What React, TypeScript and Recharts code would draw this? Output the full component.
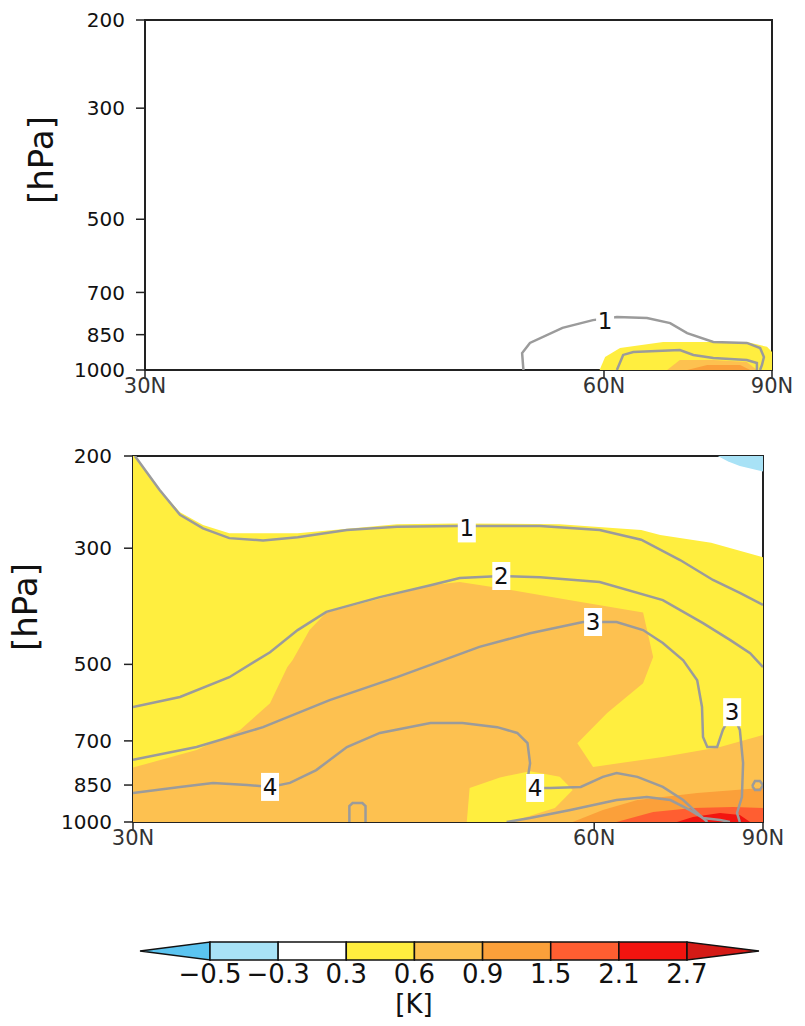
import React from 'react';
import { ScatterChart, Scatter, XAxis, YAxis, ReferenceArea } from 'recharts';

// points are [latitude (deg N), pressure (hPa)]
type Pt = [number, number];

const P_TICKS = [200, 300, 500, 700, 850, 1000];
const LAT_TICKS = [30, 60, 90];

const LEVELS = ['\u22120.5', '\u22120.3', '0.3', '0.6', '0.9', '1.5', '2.1', '2.7'];
// below -0.5, -0.5..-0.3, -0.3..0.3, 0.3..0.6, 0.6..0.9, 0.9..1.5, 1.5..2.1, 2.1..2.7, above 2.7
const LEVEL_COLORS = ['#5BC4F0', '#A8E2F6', '#FFFFFF', '#FFEE3F', '#FDC150', '#FBA03A', '#FF5E31', '#F3140F', '#D41A16'];

// ---- upper panel ----
const T_YELLOW: Pt[] = [[59.6, 1000], [60.1, 942], [61.5, 904], [65.95, 879], [72.4, 879], [78.5, 879], [84.9, 899], [90, 921], [90, 1000]];
const T_ORANGE_LIGHT: Pt[] = [[66.4, 1000], [67.9, 955], [72.4, 955], [78.5, 964], [81.1, 1000]];
const T_ORANGE: Pt[] = [[68.8, 1000], [71.5, 977], [77.05, 977], [79.3, 1000]];
const T_LINE1: Pt[] = [[53.3, 1000], [53.2, 925], [53.8, 883], [56.4, 824], [59.0, 795], [61.2, 784], [64.2, 787], [66.75, 806], [68.8, 844], [72.4, 879], [78.5, 883], [82.1, 904], [83.5, 942], [82.75, 977], [82.1, 1000]];
const T_LINE2: Pt[] = [[61.2, 1000], [61.8, 933], [62.8, 921], [67.9, 912], [69.6, 933], [72.4, 946], [78.5, 955], [81.1, 968], [81.1, 1000]];
const T_LABELS = [{ lat: 60.1, p: 798, text: '1' }];

// ---- lower panel ----
const B_YELLOW: Pt[] = [[30, 200], [30.1, 200], [31.4, 232], [32.5, 256], [33.75, 271], [35.2, 281], [39.1, 281], [45.2, 270], [49.2, 269], [57.0, 270], [64.6, 277], [66.7, 283], [73.5, 293], [90, 312], [90, 1000], [30, 1000]];
const B_CYAN: Pt[] = [[74.6, 200], [90, 200], [90, 214], [79, 209], [76.5, 205]];
const B_ORANGE_LIGHT: Pt[] = [[30, 787], [33.4, 729], [35.8, 667], [37.5, 593], [38.5, 506], [38.8, 491], [39.8, 430], [40.8, 398], [43.0, 382], [47.4, 353], [49.4, 348], [52.1, 357], [57.9, 377], [64.8, 398], [65.9, 484], [64.8, 543], [61.2, 619], [58.5, 707], [59.9, 785], [67.0, 751], [75.0, 719], [90, 682], [90, 1000], [30, 1000]];
const B_YELLOW_PATCH: Pt[] = [[49.9, 1000], [50.1, 861], [52.3, 822], [54.6, 800], [57.0, 820], [58.1, 869], [56.6, 940], [53.1, 1000]];
const B_ORANGE: Pt[] = [[58.1, 1000], [60.8, 949], [64.2, 908], [71.4, 880], [86.8, 861], [90, 861], [90, 1000]];
const B_REDORANGE: Pt[] = [[62.1, 1000], [65.9, 957], [70.8, 940], [77.5, 936], [90, 940], [90, 1000]];
const B_RED: Pt[] = [[68.7, 1000], [70.8, 978], [75.0, 961], [79.0, 970], [81.8, 1000]];

const B_LINE1: Pt[] = [[30.1, 200], [31.4, 232], [32.5, 259], [33.75, 275], [35.2, 287], [37.1, 290], [39.1, 286], [42.05, 277], [45.2, 273], [49.2, 272], [55.4, 272], [60.5, 277], [64.6, 289], [69.1, 316], [73.8, 345], [79.0, 365], [90, 385]];
const B_LINE2: Pt[] = [[30, 603], [32.5, 577], [35.2, 529], [37.5, 474], [39.1, 430], [40.8, 397], [44.1, 372], [47.4, 353], [49.4, 342], [52.4, 339], [55.4, 341], [60.5, 348], [67.0, 377], [72.25, 417], [76.85, 449], [81.8, 476], [90, 506]];
const B_LINE3: Pt[] = [[30, 761], [33.4, 719], [37.1, 659], [41.0, 585], [45.2, 529], [47.4, 501], [50.8, 463], [54.6, 436], [59.0, 415], [62.1, 415], [64.8, 430], [67.0, 455], [69.5, 491], [71.4, 536], [72.1, 603], [72.25, 688], [72.9, 719], [74.5, 719], [75.5, 667], [77.3, 617], [79.0, 667], [79.8, 772], [79.5, 896], [78.35, 961], [79.0, 1000]];
const B_LINE4: Pt[] = [[30, 880], [32.5, 857], [34.3, 842], [36.2, 850], [37.5, 857], [38.65, 842], [40.2, 796], [42.05, 719], [44.1, 676], [47.4, 647], [49.6, 647], [52.1, 659], [53.6, 676], [54.4, 707], [54.6, 772], [54.4, 831], [55.0, 861], [56.2, 861], [58.8, 857], [60.8, 820], [62.1, 806], [64.2, 820], [67.0, 857], [69.5, 908], [71.4, 961], [72.9, 1000]];
const B_LINE5: Pt[] = [[52.8, 1000], [54.6, 983], [57.9, 949], [62.1, 908], [65.2, 896], [67.9, 908], [70.4, 949], [72.25, 983], [75.0, 991], [76.85, 1000]];
const B_LOOP: Pt[] = [[82.5, 854], [83.55, 835], [86.0, 835], [90, 850], [86.0, 869], [83.55, 869], [82.5, 854]];
const B_NOTCH: Pt[] = [[42.2, 1000], [42.2, 932], [42.4, 920], [43.0, 920], [43.2, 932], [43.2, 1000]];
const B_LABELS = [
  { lat: 49.9, p: 275, text: '1' },
  { lat: 52.4, p: 339, text: '2' },
  { lat: 59.9, p: 415, text: '3' },
  { lat: 77.3, p: 617, text: '3' },
  { lat: 37.5, p: 857, text: '4' },
  { lat: 55.0, p: 861, text: '4' },
];

const FONT = 'DejaVu Sans';
const LINE_COLOR = '#9B9B9B';
const FRAME = '#222';

const rad = Math.PI / 180;
const sinLat = (lat: number) => Math.round(Math.sin(lat * rad) * 1e9) / 1e9;
const toXY = (pts: Pt[]) => pts.map(([lat, p]) => ({ x: sinLat(lat), p }));

const NoDot = () => <g />;

const LabelBox = (props: any) => {
  const { cx, cy, payload } = props;
  return (
    <g>
      <rect x={cx - 9} y={cy - 14} width={18} height={28} fill="#fff" />
      <text x={cx} y={cy + 8} textAnchor="middle" fontSize={23} fontFamily={FONT} fill="#111">
        {payload.text}
      </text>
    </g>
  );
};

interface PanelProps {
  width: number;
  height: number;
  margin: { top: number; right: number; bottom: number; left: number };
  yAxisWidth: number;
  xAxisHeight: number;
  yTickMargin: number;
  fills: { pts: Pt[]; color: string }[];
  lines: Pt[][];
  labels: { lat: number; p: number; text: string }[];
}

function Panel({ width, height, margin, yAxisWidth, xAxisHeight, yTickMargin, fills, lines, labels }: PanelProps) {
  return (
    <ScatterChart width={width} height={height} margin={margin}>
      <XAxis
        type="number"
        dataKey="x"
        domain={[0.5, 1]}
        ticks={LAT_TICKS.map(sinLat)}
        interval={0}
        allowDataOverflow
        tickFormatter={(v: number) => `${Math.round(Math.asin(v) / rad)}N`}
        height={xAxisHeight}
        tickSize={8}
        tickMargin={0}
        axisLine={{ stroke: FRAME, strokeWidth: 2 }}
        tickLine={{ stroke: FRAME, strokeWidth: 1.5 }}
        tick={{ fontSize: 21, fontFamily: FONT, fill: '#333' }}
      />
      <YAxis
        type="number"
        dataKey="p"
        scale="log"
        domain={[200, 1000]}
        reversed
        allowDataOverflow
        ticks={P_TICKS}
        interval={0}
        width={yAxisWidth}
        tickSize={9}
        tickMargin={yTickMargin}
        axisLine={{ stroke: FRAME, strokeWidth: 2 }}
        tickLine={{ stroke: FRAME, strokeWidth: 1.5 }}
        tick={{ fontSize: 20, fontFamily: FONT, fill: '#111' }}
      />
      {fills.map((f, i) => (
        <Scatter
          key={`f${i}`}
          data={toXY(f.pts)}
          line={{ fill: f.color, stroke: 'none' }}
          lineJointType="linear"
          shape={NoDot}
          isAnimationActive={false}
        />
      ))}
      {lines.map((l, i) => (
        <Scatter
          key={`l${i}`}
          data={toXY(l)}
          line={{ fill: 'none', stroke: LINE_COLOR, strokeWidth: 2.5 }}
          lineJointType="linear"
          shape={NoDot}
          isAnimationActive={false}
        />
      ))}
      <Scatter
        data={labels.map((d) => ({ x: sinLat(d.lat), p: d.p, text: d.text }))}
        shape={LabelBox}
        isAnimationActive={false}
      />
      <ReferenceArea x1={0.5} x2={1} y1={200} y2={1000} fill="none" stroke={FRAME} strokeWidth={2} ifOverflow="visible" />
    </ScatterChart>
  );
}

function ColorBar() {
  const x0 = 210;
  const x1 = 687;
  const boxes = LEVEL_COLORS.slice(1, LEVEL_COLORS.length - 1);
  const step = (x1 - x0) / boxes.length;
  const top = 12;
  const bot = 30;
  const mid = (top + bot) / 2;
  return (
    <svg width={805} height={96} style={{ position: 'absolute', left: 0, top: 930 }}>
      <polygon points={`${x0},${top} ${x0},${bot} 140,${mid}`} fill={LEVEL_COLORS[0]} stroke="#111" strokeWidth={1.5} />
      {boxes.map((c, i) => (
        <rect key={i} x={x0 + i * step} y={top} width={step} height={bot - top} fill={c} stroke="#111" strokeWidth={1.5} />
      ))}
      <polygon points={`${x1},${top} ${x1},${bot} 759,${mid}`} fill={LEVEL_COLORS[LEVEL_COLORS.length - 1]} stroke="#111" strokeWidth={1.5} />
      {LEVELS.map((t, i) => (
        <text key={t} x={x0 + i * step} y={53} textAnchor="middle" fontSize={26} fontFamily={FONT} fill="#111">
          {t}
        </text>
      ))}
      <text x={414} y={83} textAnchor="middle" fontSize={26} fontFamily={FONT} fill="#111">
        [K]
      </text>
    </svg>
  );
}

const axisTitle = (left: number, top: number): React.CSSProperties => ({
  position: 'absolute',
  left,
  top,
  transform: 'translate(-50%, -50%) rotate(-90deg)',
  fontFamily: FONT,
  fontSize: 34,
  color: '#111',
  whiteSpace: 'nowrap',
});

export default function App() {
  const yellow = LEVEL_COLORS[3];
  const lightOrange = LEVEL_COLORS[4];
  const orange = LEVEL_COLORS[5];
  const redOrange = LEVEL_COLORS[6];
  const red = LEVEL_COLORS[7];
  return (
    <div style={{ position: 'absolute', left: 0, top: 0, width: 805, height: 1026, background: '#fff' }}>
      <div style={{ position: 'absolute', left: 0, top: 0 }}>
        <Panel
          width={805}
          height={400}
          margin={{ top: 20, right: 33, bottom: 0, left: 0 }}
          yAxisWidth={145}
          xAxisHeight={30}
          yTickMargin={11}
          fills={[
            { pts: T_YELLOW, color: yellow },
            { pts: T_ORANGE_LIGHT, color: lightOrange },
            { pts: T_ORANGE, color: orange },
          ]}
          lines={[T_LINE1, T_LINE2]}
          labels={T_LABELS}
        />
      </div>
      <div style={axisTitle(41, 160)}>[hPa]</div>
      <div style={{ position: 'absolute', left: 0, top: 436 }}>
        <Panel
          width={805}
          height={420}
          margin={{ top: 20, right: 42, bottom: 0, left: 0 }}
          yAxisWidth={133}
          xAxisHeight={34}
          yTickMargin={12}
          fills={[
            { pts: B_YELLOW, color: yellow },
            { pts: B_CYAN, color: LEVEL_COLORS[1] },
            { pts: B_ORANGE_LIGHT, color: lightOrange },
            { pts: B_YELLOW_PATCH, color: yellow },
            { pts: B_ORANGE, color: orange },
            { pts: B_REDORANGE, color: redOrange },
            { pts: B_RED, color: red },
          ]}
          lines={[B_LINE1, B_LINE2, B_LINE3, B_LINE4, B_LINE5, B_LOOP, B_NOTCH]}
          labels={B_LABELS}
        />
      </div>
      <div style={axisTitle(25, 607)}>[hPa]</div>
      <ColorBar />
    </div>
  );
}
